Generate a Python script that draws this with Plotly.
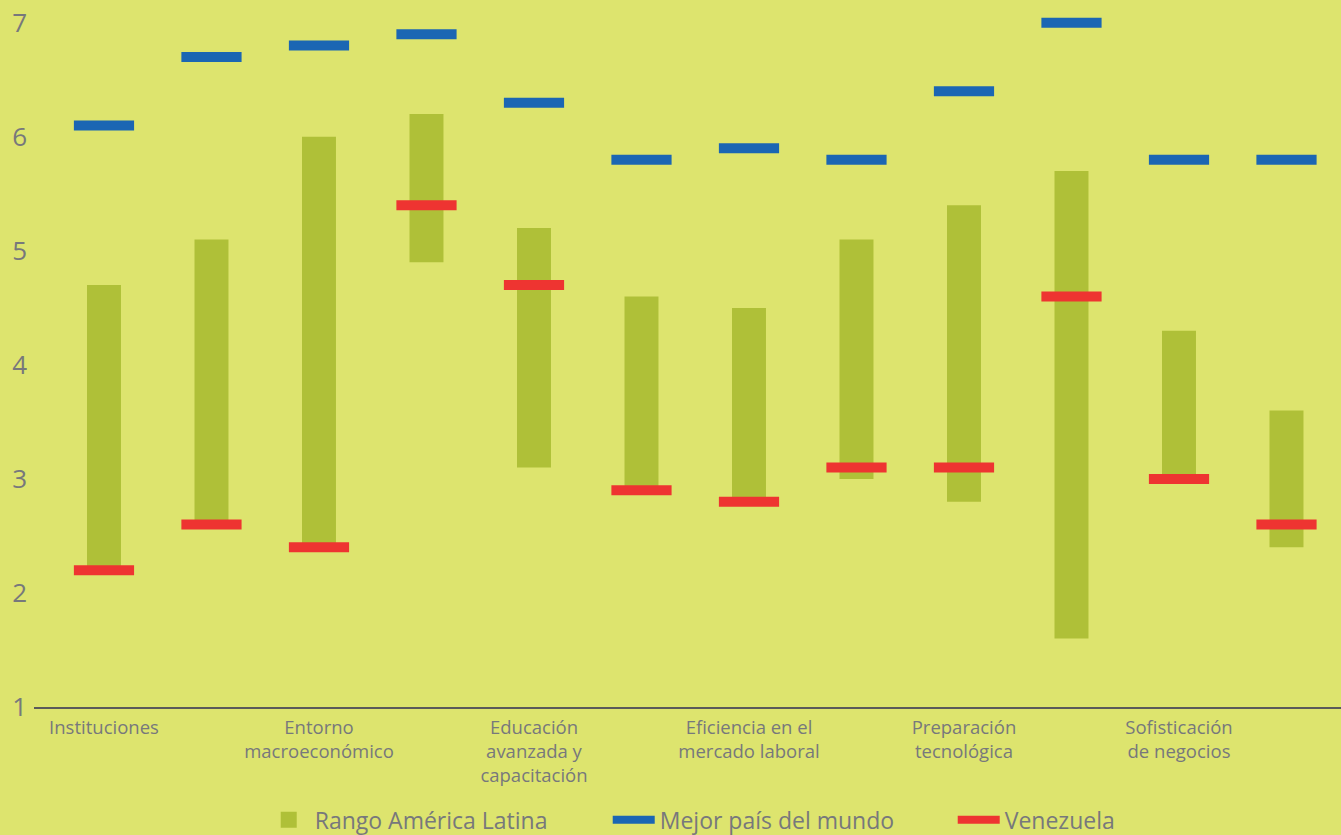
import plotly.graph_objects as go

# 12 pillars (only every other one is labelled in the reference)
categories = [
    "Instituciones", "Infraestructura", "Entorno macroeconómico",
    "Salud y educación primaria", "Educación avanzada y capacitación",
    "Eficiencia del mercado de bienes", "Eficiencia en el mercado laboral",
    "Desarrollo del mercado financiero", "Preparación tecnológica",
    "Tamaño del mercado", "Sofisticación de negocios", "Innovación",
]
latam_low = [2.2, 2.6, 2.4, 4.9, 3.1, 2.9, 2.8, 3.0, 2.8, 1.6, 3.0, 2.4]
latam_high = [4.7, 5.1, 6.0, 6.2, 5.2, 4.6, 4.5, 5.1, 5.4, 5.7, 4.3, 3.6]
best_world = [6.1, 6.7, 6.8, 6.9, 6.3, 5.8, 5.9, 5.8, 6.4, 7.0, 5.8, 5.8]
venezuela = [2.2, 2.6, 2.4, 5.4, 4.7, 2.9, 2.8, 3.1, 3.1, 4.6, 3.0, 2.6]

tick_positions = [0, 2, 4, 6, 8, 10]
tick_labels = [
    "Instituciones",
    "Entorno<br>macroeconómico",
    "Educación<br>avanzada y<br>capacitación",
    "Eficiencia en el<br>mercado laboral",
    "Preparación<br>tecnológica",
    "Sofisticación<br>de negocios",
]
y_ticks = [1, 2, 3, 4, 5, 6, 7]

BG = "#dde46e"
GREEN = "#afc038"
BLUE = "#1b66b3"
RED = "#ee3431"
GRAY = "#77787c"
FONT = "Open Sans"

x = list(range(len(categories)))

fig = go.Figure()
fig.add_trace(go.Bar(
    x=x, y=[h - l for h, l in zip(latam_high, latam_low)], base=latam_low,
    width=0.316, marker=dict(color=GREEN, line=dict(width=0)),
    name="Rango América Latina", hovertext=categories, showlegend=False,
))
fig.add_trace(go.Scatter(
    x=x, y=best_world, mode="markers", showlegend=False,
    marker=dict(symbol="line-ew", size=43, line=dict(color=BLUE, width=10)),
    hovertext=categories, name="Mejor país del mundo",
))
fig.add_trace(go.Scatter(
    x=x, y=venezuela, mode="markers", showlegend=False,
    marker=dict(symbol="line-ew", size=43, line=dict(color=RED, width=10)),
    hovertext=categories, name="Venezuela",
))
# legend entries
fig.add_trace(go.Scatter(x=[None], y=[None], mode="markers",
                         marker=dict(symbol="square", size=16, color=GREEN),
                         name="Rango América Latina"))
fig.add_trace(go.Scatter(x=[None], y=[None], mode="lines",
                         line=dict(color=BLUE, width=8), name="Mejor país del mundo"))
fig.add_trace(go.Scatter(x=[None], y=[None], mode="lines",
                         line=dict(color=RED, width=8), name="Venezuela"))

fig.update_layout(
    width=1341, height=835,
    paper_bgcolor=BG, plot_bgcolor=BG,
    margin=dict(l=34, r=0, t=0, b=128),
    font=dict(family=FONT, color=GRAY),
    showlegend=True,
    legend=dict(
        orientation="h", x=0.175, xanchor="left", xref="paper",
        y=0.044, yanchor="top", yref="container",
        font=dict(size=23, color=GRAY, family=FONT),
        bgcolor="rgba(0,0,0,0)", entrywidth=288, entrywidthmode="pixels",
        itemwidth=42,
    ),
    xaxis=dict(
        range=[-0.651, 11.507], tickmode="array", tickvals=tick_positions,
        ticktext=tick_labels, showgrid=False, zeroline=False,
        showline=True, linecolor="#5a5a5a", linewidth=1.5, ticks="",
        tickfont=dict(size=18.5, color=GRAY, family=FONT), fixedrange=True,
        ticklabelstandoff=3,
    ),
    yaxis=dict(
        range=[1, 7.2], tickmode="array", tickvals=y_ticks,
        showgrid=False, zeroline=False, showline=False, ticks="",
        tickfont=dict(size=26, color=GRAY, family=FONT), fixedrange=True,
        ticklabelstandoff=6,
    ),
)

fig.write_html(
    "out.html",
    config={"displayModeBar": False},
    post_script="document.body.style.margin='0';document.body.style.background='%s';" % BG,
)
